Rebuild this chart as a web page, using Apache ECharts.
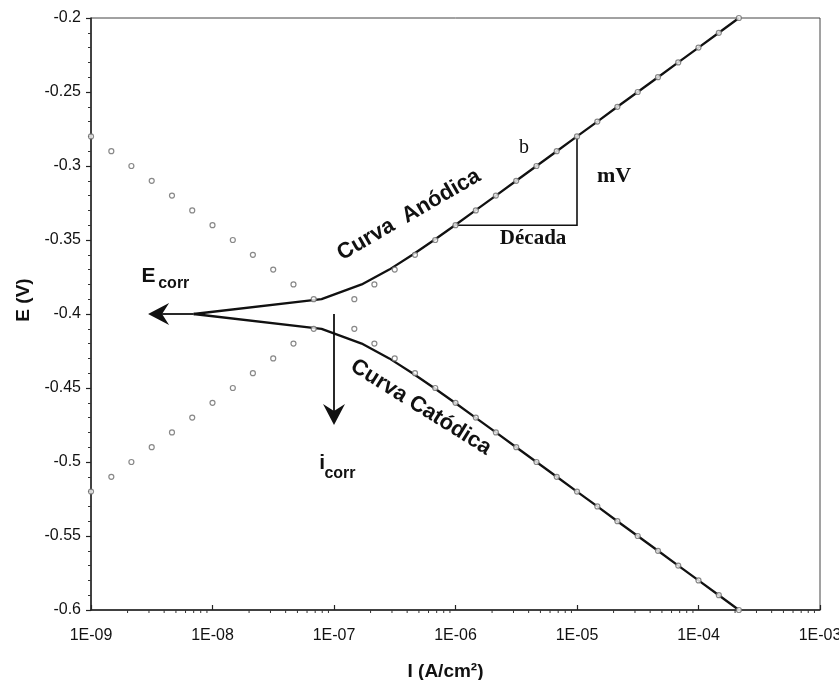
<!DOCTYPE html>
<html>
<head>
<meta charset="utf-8">
<script src="https://cdn.jsdelivr.net/npm/echarts@6/dist/echarts.min.js"></script>
<style>
html,body{margin:0;padding:0;background:#fff;}
#chart{width:839px;height:680px;}
</style>
</head>
<body>
<div id="chart"></div>
<script>
// ---- Data ----
// Measured (net) polarization curve, anodic branch
const anodicNetE = [-0.40, -0.39, -0.38, -0.37, -0.36, -0.35, -0.34, -0.33, -0.32, -0.31, -0.30, -0.29, -0.28, -0.27, -0.26, -0.25, -0.24, -0.23, -0.22, -0.21, -0.20];
const anodicNetI = [7.0e-9, 7.9e-8, 1.69e-7, 2.85e-7, 4.43e-7, 6.67e-7, 9.9e-7, 1.46e-6, 2.15e-6, 3.16e-6, 4.64e-6, 6.81e-6, 1.0e-5, 1.47e-5, 2.15e-5, 3.16e-5, 4.64e-5, 6.81e-5, 1.0e-4, 1.47e-4, 2.15e-4];
// Measured (net) polarization curve, cathodic branch
const cathodicNetE = [-0.40, -0.41, -0.42, -0.43, -0.44, -0.45, -0.46, -0.47, -0.48, -0.49, -0.50, -0.51, -0.52, -0.53, -0.54, -0.55, -0.56, -0.57, -0.58, -0.59, -0.60];
const cathodicNetI = [7.0e-9, 7.9e-8, 1.69e-7, 2.85e-7, 4.43e-7, 6.67e-7, 9.9e-7, 1.46e-6, 2.15e-6, 3.16e-6, 4.64e-6, 6.81e-6, 1.0e-5, 1.47e-5, 2.15e-5, 3.16e-5, 4.64e-5, 6.81e-5, 1.0e-4, 1.47e-4, 2.15e-4];
// Tafel line points (open circles), cathodic Tafel line
const cathodicTafelE = [-0.28, -0.29, -0.30, -0.31, -0.32, -0.33, -0.34, -0.35, -0.36, -0.37, -0.38, -0.39,
  -0.41, -0.42, -0.43, -0.44, -0.45, -0.46, -0.47, -0.48, -0.49, -0.50, -0.51, -0.52, -0.53, -0.54, -0.55, -0.56, -0.57, -0.58, -0.59, -0.60];
const cathodicTafelI = [1.0e-9, 1.47e-9, 2.15e-9, 3.16e-9, 4.64e-9, 6.81e-9, 1.0e-8, 1.47e-8, 2.15e-8, 3.16e-8, 4.64e-8, 6.81e-8,
  1.47e-7, 2.15e-7, 3.16e-7, 4.64e-7, 6.81e-7, 1.0e-6, 1.47e-6, 2.15e-6, 3.16e-6, 4.64e-6, 6.81e-6, 1.0e-5, 1.47e-5, 2.15e-5, 3.16e-5, 4.64e-5, 6.81e-5, 1.0e-4, 1.47e-4, 2.15e-4];
// Tafel line points (open circles), anodic Tafel line
const anodicTafelE = [-0.52, -0.51, -0.50, -0.49, -0.48, -0.47, -0.46, -0.45, -0.44, -0.43, -0.42, -0.41,
  -0.39, -0.38, -0.37, -0.36, -0.35, -0.34, -0.33, -0.32, -0.31, -0.30, -0.29, -0.28, -0.27, -0.26, -0.25, -0.24, -0.23, -0.22, -0.21, -0.20];
const anodicTafelI = [1.0e-9, 1.47e-9, 2.15e-9, 3.16e-9, 4.64e-9, 6.81e-9, 1.0e-8, 1.47e-8, 2.15e-8, 3.16e-8, 4.64e-8, 6.81e-8,
  1.47e-7, 2.15e-7, 3.16e-7, 4.64e-7, 6.81e-7, 1.0e-6, 1.47e-6, 2.15e-6, 3.16e-6, 4.64e-6, 6.81e-6, 1.0e-5, 1.47e-5, 2.15e-5, 3.16e-5, 4.64e-5, 6.81e-5, 1.0e-4, 1.47e-4, 2.15e-4];
// Slope triangle (one decade, mV)
const triangleI = [1.0e-6, 1.0e-5, 1.0e-5];
const triangleE = [-0.34, -0.34, -0.28];
// Axis tick labels
const xTickLabels = ['1E-09', '1E-08', '1E-07', '1E-06', '1E-05', '1E-04', '1E-03'];
const yTickLabels = ['-0.6', '-0.55', '-0.5', '-0.45', '-0.4', '-0.35', '-0.3', '-0.25', '-0.2'];

function zip(a, b) { return a.map((v, i) => [v, b[i]]); }

function buildOption() {
  const minorTicks = [];
  for (let e = -9; e < -3; e++) for (let m = 2; m <= 9; m++) minorTicks.push([m * Math.pow(10, e), -0.6]);

  const arrows = [
    // [I start, E start, I tip, E tip]
    [7.0e-9, -0.40, 2.95e-9, -0.40],
    [1.0e-7, -0.40, 1.0e-7, -0.475]
  ];
  const sans = '"Liberation Sans", Arial';
  const serif = '"Liberation Serif", "Times New Roman"';
  const labels = [
    { I: 4.14e-7, E: -0.333, text: 'Curva  Anódica', font: 'bold 22px ' + sans, rot: 30 },
    { I: 5.2e-7, E: -0.463, text: 'Curva Catódica', font: 'bold 22px ' + sans, rot: -32 },
    { I: 3.66e-6, E: -0.288, text: 'b', font: '20px ' + serif, rot: 0 },
    { I: 2.02e-5, E: -0.307, text: 'mV', font: 'bold 22px ' + serif, rot: 0 },
    { I: 4.35e-6, E: -0.349, text: 'Década', font: 'bold 21px ' + serif, rot: 0 },
    { I: 2.97e-9, E: -0.3745, text: 'E', font: 'bold 21px ' + sans, rot: 0 },
    { I: 4.8e-9, E: -0.3795, text: 'corr', font: 'bold 16px ' + sans, rot: 0 },
    { I: 8.0e-8, E: -0.5005, text: 'i', font: 'bold 21px ' + sans, rot: 0 },
    { I: 1.12e-7, E: -0.5075, text: 'corr', font: 'bold 16px ' + sans, rot: 0 }
  ];

  const tickFont = '"Liberation Sans", Arial, sans-serif';
  return {
    animation: false,
    backgroundColor: '#fff',
    grid: { left: 91, right: 19, top: 18, bottom: 70, outerBoundsMode: 'none', containLabel: false, show: true, borderColor: '#444', borderWidth: 1 },
    xAxis: {
      type: 'log', logBase: 10, min: 1e-9, max: 1e-3, splitNumber: 6,
      axisLine: { show: true, onZero: false, lineStyle: { color: '#222', width: 1.5 } },
      axisTick: { show: true, inside: true, length: 5, lineStyle: { color: '#222', width: 1.2 } },
      axisLabel: {
        fontSize: 16, color: '#111', fontFamily: tickFont, margin: 18,
        formatter: v => xTickLabels[Math.round(Math.log10(v)) + 9]
      },
      splitLine: { show: false },
      name: 'I (A/cm²)', nameLocation: 'middle', nameGap: 52,
      nameTextStyle: { fontSize: 19, fontWeight: 'bold', color: '#111', fontFamily: tickFont, padding: [0, 20, 0, 0] }
    },
    yAxis: {
      type: 'value', min: -0.6, max: -0.2, interval: 0.05,
      axisLine: { show: true, onZero: false, lineStyle: { color: '#222', width: 1.5 } },
      axisTick: { show: true, inside: false, length: 5, lineStyle: { color: '#222', width: 1.2 } },
      minorTick: { show: true, splitNumber: 5, length: 3, lineStyle: { color: '#333', width: 1 } },
      axisLabel: {
        fontSize: 16, color: '#111', fontFamily: tickFont, margin: 10,
        formatter: v => yTickLabels[Math.round((v + 0.6) / 0.05)]
      },
      splitLine: { show: false },
      name: 'E (V)', nameLocation: 'middle', nameRotate: 90, nameGap: 58,
      nameTextStyle: { fontSize: 19, fontWeight: 'bold', color: '#111', fontFamily: tickFont, padding: [0, 0, 0, 28] }
    },
    series: [
      {
        type: 'line', name: 'Curva Anódica', data: zip(anodicNetI, anodicNetE),
        showSymbol: false, lineStyle: { color: '#111', width: 2.3 }, z: 3
      },
      {
        type: 'line', name: 'Curva Catódica', data: zip(cathodicNetI, cathodicNetE),
        showSymbol: false, lineStyle: { color: '#111', width: 2.3 }, z: 3
      },
      {
        type: 'scatter', name: 'Tafel catódica', data: zip(cathodicTafelI, cathodicTafelE),
        symbol: 'circle', symbolSize: 5,
        itemStyle: { color: '#fff', borderColor: '#6a6a6a', borderWidth: 1.2 }, z: 5
      },
      {
        type: 'scatter', name: 'Tafel anódica', data: zip(anodicTafelI, anodicTafelE),
        symbol: 'circle', symbolSize: 5,
        itemStyle: { color: '#fff', borderColor: '#6a6a6a', borderWidth: 1.2 }, z: 5
      },
      {
        type: 'custom', name: 'triangle', data: [0],
        renderItem: function (params, api) {
          const pts = triangleI.map((v, i) => api.coord([v, triangleE[i]]));
          return { type: 'polyline', shape: { points: pts }, style: { stroke: '#111', lineWidth: 1.6, fill: null } };
        }, z: 4
      },
      {
        type: 'custom', name: 'arrows', data: arrows,
        renderItem: function (params, api) {
          const a = arrows[params.dataIndex];
          const p0 = api.coord([a[0], a[1]]);
          const p1 = api.coord([a[2], a[3]]);
          const dx = p1[0] - p0[0], dy = p1[1] - p0[1];
          const len = Math.sqrt(dx * dx + dy * dy);
          const ux = dx / len, uy = dy / len, nx = -uy, ny = ux;
          const L = 21, W = 11, N = 14;
          const base = [p1[0] - ux * L, p1[1] - uy * L];
          const notch = [p1[0] - ux * N, p1[1] - uy * N];
          return {
            type: 'group', children: [
              { type: 'line', shape: { x1: p0[0], y1: p0[1], x2: notch[0], y2: notch[1] }, style: { stroke: '#111', lineWidth: 1.8 } },
              { type: 'polygon', shape: { points: [p1, [base[0] + nx * W, base[1] + ny * W], notch, [base[0] - nx * W, base[1] - ny * W]] }, style: { fill: '#111' } }
            ]
          };
        }, z: 6
      },
      {
        type: 'custom', name: 'labels', data: labels.map(l => [l.I, l.E]),
        renderItem: function (params, api) {
          const l = labels[params.dataIndex];
          const p = api.coord([l.I, l.E]);
          return {
            type: 'text', x: p[0], y: p[1], rotation: l.rot * Math.PI / 180,
            style: { text: l.text, font: l.font, fill: '#111', align: 'center', verticalAlign: 'middle', textAlign: 'center', textVerticalAlign: 'middle' }
          };
        }, z: 7
      },
      {
        type: 'custom', name: 'minorTicks', data: minorTicks, clip: false,
        renderItem: function (params, api) {
          const p = api.coord([api.value(0), api.value(1)]);
          return { type: 'line', shape: { x1: p[0], y1: p[1], x2: p[0], y2: p[1] + 3 }, style: { stroke: '#333', lineWidth: 1 } };
        }, z: 2
      }
    ]
  };
}

const chart = echarts.init(document.getElementById('chart'), null, { renderer: 'canvas' });
chart.setOption(buildOption());
</script>
</body>
</html>
